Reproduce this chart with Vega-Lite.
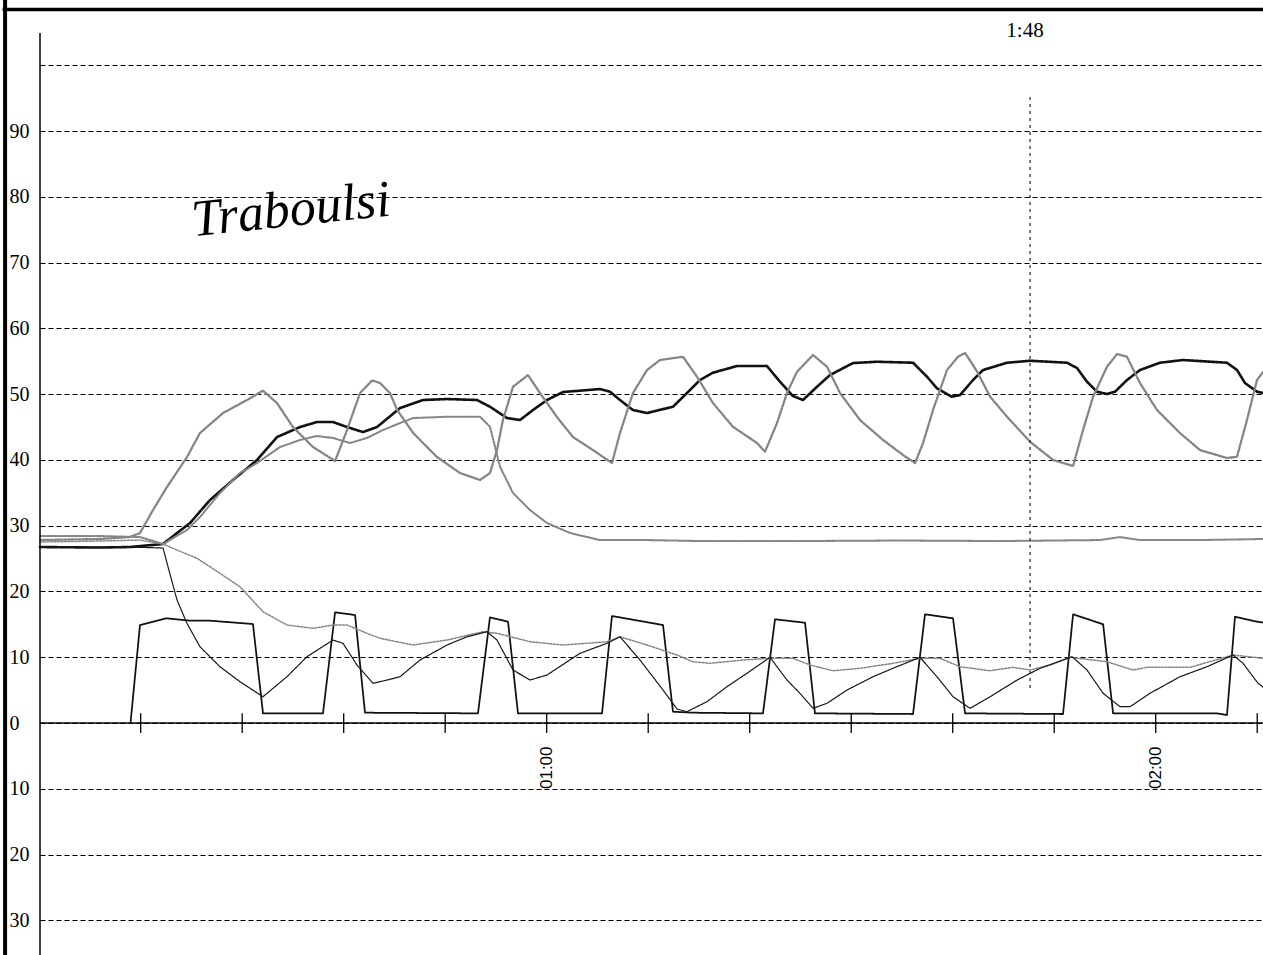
{
  "$schema": "https://vega.github.io/schema/vega-lite/v6.json",
  "width": 1223,
  "height": 955,
  "autosize": {"type": "none"},
  "padding": {"left": 40, "top": 0, "right": 0, "bottom": 0},
  "background": "#ffffff",
  "config": {"view": {"stroke": null}},
  "datasets": {
    "series": [
      {"s":"A","t":10.08,"v":26.76},{"s":"A","t":15.99,"v":26.68},{"s":"A","t":18.95,"v":26.76},{"s":"A","t":22.2,"v":27.22},{"s":"A","t":23.58,"v":28.89},{"s":"A","t":24.86,"v":30.41},{"s":"A","t":26.83,"v":33.9},{"s":"A","t":29.09,"v":36.95},{"s":"A","t":31.46,"v":39.99},{"s":"A","t":33.43,"v":43.48},{"s":"A","t":35.69,"v":45.0},{"s":"A","t":37.37,"v":45.76},{"s":"A","t":38.95,"v":45.76},{"s":"A","t":40.33,"v":45.0},{"s":"A","t":41.9,"v":44.24},{"s":"A","t":43.28,"v":45.0},{"s":"A","t":45.55,"v":47.89},{"s":"A","t":47.81,"v":49.11},{"s":"A","t":50.18,"v":49.26},{"s":"A","t":53.13,"v":49.11},{"s":"A","t":54.41,"v":48.09},{"s":"A","t":56.09,"v":46.37},{"s":"A","t":57.37,"v":46.07},{"s":"A","t":58.65,"v":47.59},{"s":"A","t":60.03,"v":49.11},{"s":"A","t":61.61,"v":50.33},{"s":"A","t":63.28,"v":50.53},{"s":"A","t":65.25,"v":50.78},{"s":"A","t":66.24,"v":50.37},{"s":"A","t":67.22,"v":49.11},{"s":"A","t":68.5,"v":47.59},{"s":"A","t":69.88,"v":47.13},{"s":"A","t":72.44,"v":48.09},{"s":"A","t":73.82,"v":50.17},{"s":"A","t":75.1,"v":52.15},{"s":"A","t":76.38,"v":53.26},{"s":"A","t":78.75,"v":54.28},{"s":"A","t":81.7,"v":54.28},{"s":"A","t":82.98,"v":51.89},{"s":"A","t":84.26,"v":49.72},{"s":"A","t":85.25,"v":49.11},{"s":"A","t":86.63,"v":51.13},{"s":"A","t":87.91,"v":52.91},{"s":"A","t":90.17,"v":54.73},{"s":"A","t":92.54,"v":54.93},{"s":"A","t":96.09,"v":54.78},{"s":"A","t":97.47,"v":52.65},{"s":"A","t":98.45,"v":50.89},{"s":"A","t":99.9,"v":49.61},{"s":"A","t":100.72,"v":49.87},{"s":"A","t":102.0,"v":52.15},{"s":"A","t":102.99,"v":53.67},{"s":"A","t":105.35,"v":54.78},{"s":"A","t":107.62,"v":55.08},{"s":"A","t":111.26,"v":54.78},{"s":"A","t":112.25,"v":53.97},{"s":"A","t":113.23,"v":51.89},{"s":"A","t":114.22,"v":50.37},{"s":"A","t":115.2,"v":50.02},{"s":"A","t":115.99,"v":50.37},{"s":"A","t":117.17,"v":52.15},{"s":"A","t":118.45,"v":53.67},{"s":"A","t":120.42,"v":54.78},{"s":"A","t":122.69,"v":55.19},{"s":"A","t":127.02,"v":54.78},{"s":"A","t":128.01,"v":53.67},{"s":"A","t":128.8,"v":51.69},{"s":"A","t":129.98,"v":50.37},{"s":"A","t":130.57,"v":50.17},

      {"s":"B","t":10.08,"v":27.82},{"s":"B","t":15.99,"v":27.98},{"s":"B","t":18.95,"v":28.28},{"s":"B","t":19.93,"v":28.89},{"s":"B","t":21.21,"v":32.38},{"s":"B","t":22.59,"v":35.88},{"s":"B","t":24.56,"v":40.44},{"s":"B","t":25.84,"v":44.09},{"s":"B","t":28.11,"v":47.13},{"s":"B","t":30.47,"v":49.11},{"s":"B","t":32.05,"v":50.53},{"s":"B","t":33.43,"v":48.65},{"s":"B","t":35.0,"v":45.0},{"s":"B","t":36.98,"v":41.96},{"s":"B","t":39.15,"v":39.83},{"s":"B","t":40.33,"v":44.55},{"s":"B","t":41.61,"v":50.17},{"s":"B","t":42.8,"v":52.1},{"s":"B","t":43.58,"v":51.69},{"s":"B","t":44.56,"v":50.17},{"s":"B","t":45.27,"v":47.59},{"s":"B","t":46.85,"v":44.09},{"s":"B","t":49.19,"v":40.44},{"s":"B","t":51.46,"v":38.01},{"s":"B","t":53.43,"v":36.95},{"s":"B","t":54.41,"v":38.01},{"s":"B","t":55.1,"v":41.5},{"s":"B","t":55.69,"v":46.07},{"s":"B","t":56.68,"v":51.13},{"s":"B","t":58.16,"v":52.91},{"s":"B","t":59.34,"v":50.17},{"s":"B","t":61.01,"v":46.53},{"s":"B","t":62.59,"v":43.48},{"s":"B","t":64.56,"v":41.5},{"s":"B","t":66.43,"v":39.53},{"s":"B","t":67.22,"v":44.09},{"s":"B","t":68.5,"v":50.17},{"s":"B","t":69.88,"v":53.67},{"s":"B","t":71.16,"v":55.19},{"s":"B","t":73.43,"v":55.69},{"s":"B","t":74.81,"v":52.65},{"s":"B","t":76.38,"v":48.65},{"s":"B","t":78.35,"v":45.04},{"s":"B","t":80.72,"v":42.57},{"s":"B","t":81.51,"v":41.26},{"s":"B","t":82.69,"v":45.61},{"s":"B","t":83.67,"v":50.17},{"s":"B","t":84.66,"v":53.41},{"s":"B","t":86.24,"v":55.95},{"s":"B","t":87.62,"v":54.17},{"s":"B","t":88.9,"v":50.17},{"s":"B","t":90.87,"v":46.07},{"s":"B","t":93.14,"v":43.03},{"s":"B","t":95.11,"v":40.75},{"s":"B","t":96.29,"v":39.53},{"s":"B","t":97.08,"v":42.57},{"s":"B","t":98.06,"v":47.59},{"s":"B","t":99.44,"v":53.67},{"s":"B","t":100.52,"v":55.69},{"s":"B","t":101.22,"v":56.28},{"s":"B","t":102.41,"v":53.41},{"s":"B","t":103.69,"v":49.61},{"s":"B","t":105.35,"v":46.57},{"s":"B","t":107.62,"v":42.77},{"s":"B","t":109.89,"v":39.99},{"s":"B","t":111.86,"v":39.08},{"s":"B","t":112.84,"v":44.55},{"s":"B","t":113.83,"v":49.61},{"s":"B","t":115.2,"v":54.17},{"s":"B","t":116.19,"v":56.1},{"s":"B","t":117.17,"v":55.69},{"s":"B","t":118.45,"v":51.69},{"s":"B","t":120.13,"v":47.59},{"s":"B","t":122.39,"v":44.09},{"s":"B","t":124.36,"v":41.5},{"s":"B","t":127.02,"v":40.29},{"s":"B","t":128.01,"v":40.49},{"s":"B","t":128.99,"v":46.07},{"s":"B","t":129.98,"v":52.15},{"s":"B","t":130.57,"v":53.37},

      {"s":"C","t":10.08,"v":28.43},{"s":"C","t":15.99,"v":28.43},{"s":"C","t":19.93,"v":28.28},{"s":"C","t":22.2,"v":27.22},{"s":"C","t":24.56,"v":29.34},{"s":"C","t":25.84,"v":31.32},{"s":"C","t":27.81,"v":34.97},{"s":"C","t":29.78,"v":38.01},{"s":"C","t":31.46,"v":39.53},{"s":"C","t":33.72,"v":41.96},{"s":"C","t":35.69,"v":43.03},{"s":"C","t":37.37,"v":43.64},{"s":"C","t":38.95,"v":43.34},{"s":"C","t":40.62,"v":42.57},{"s":"C","t":42.3,"v":43.34},{"s":"C","t":43.87,"v":44.55},{"s":"C","t":45.55,"v":45.61},{"s":"C","t":46.85,"v":46.37},{"s":"C","t":50.18,"v":46.57},{"s":"C","t":53.43,"v":46.57},{"s":"C","t":54.41,"v":45.04},{"s":"C","t":54.91,"v":42.0},{"s":"C","t":55.4,"v":38.97},{"s":"C","t":56.68,"v":34.97},{"s":"C","t":58.36,"v":32.38},{"s":"C","t":60.03,"v":30.41},{"s":"C","t":62.3,"v":28.89},{"s":"C","t":65.25,"v":27.82},{"s":"C","t":69.88,"v":27.82},{"s":"C","t":75.1,"v":27.67},{"s":"C","t":84.95,"v":27.67},{"s":"C","t":94.8,"v":27.75},{"s":"C","t":104.66,"v":27.67},{"s":"C","t":114.51,"v":27.82},{"s":"C","t":116.48,"v":28.28},{"s":"C","t":118.45,"v":27.82},{"s":"C","t":124.36,"v":27.82},{"s":"C","t":130.57,"v":27.98},

      {"s":"D","t":19.01,"v":0.2},{"s":"D","t":19.93,"v":14.9},{"s":"D","t":22.56,"v":15.92},{"s":"D","t":24.86,"v":15.56},{"s":"D","t":26.83,"v":15.56},{"s":"D","t":31.06,"v":15.05},{"s":"D","t":32.05,"v":1.47},{"s":"D","t":37.96,"v":1.47},{"s":"D","t":39.15,"v":16.83},{"s":"D","t":41.12,"v":16.42},{"s":"D","t":42.1,"v":1.57},{"s":"D","t":53.23,"v":1.47},{"s":"D","t":54.41,"v":16.07},{"s":"D","t":56.19,"v":15.4},{"s":"D","t":57.17,"v":1.47},{"s":"D","t":65.45,"v":1.47},{"s":"D","t":66.43,"v":16.27},{"s":"D","t":71.46,"v":14.9},{"s":"D","t":72.44,"v":1.72},{"s":"D","t":74.41,"v":1.57},{"s":"D","t":81.31,"v":1.47},{"s":"D","t":82.49,"v":15.77},{"s":"D","t":85.45,"v":15.25},{"s":"D","t":86.43,"v":1.47},{"s":"D","t":96.09,"v":1.37},{"s":"D","t":97.27,"v":16.53},{"s":"D","t":100.03,"v":15.92},{"s":"D","t":101.22,"v":1.47},{"s":"D","t":110.87,"v":1.37},{"s":"D","t":111.86,"v":16.53},{"s":"D","t":114.82,"v":15.01},{"s":"D","t":115.8,"v":1.47},{"s":"D","t":126.05,"v":1.47},{"s":"D","t":127.02,"v":1.22},{"s":"D","t":127.81,"v":16.16},{"s":"D","t":129.98,"v":15.4},{"s":"D","t":130.57,"v":15.28},

      {"s":"F","t":10.08,"v":27.52},{"s":"F","t":15.99,"v":27.67},{"s":"F","t":19.93,"v":27.82},{"s":"F","t":22.2,"v":27.22},{"s":"F","t":23.58,"v":26.3},{"s":"F","t":25.55,"v":25.04},{"s":"F","t":27.81,"v":22.76},{"s":"F","t":29.78,"v":20.72},{"s":"F","t":32.05,"v":16.92},{"s":"F","t":34.41,"v":14.9},{"s":"F","t":36.98,"v":14.4},{"s":"F","t":38.95,"v":14.9},{"s":"F","t":40.33,"v":14.9},{"s":"F","t":42.3,"v":13.64},{"s":"F","t":43.58,"v":12.88},{"s":"F","t":46.85,"v":11.86},{"s":"F","t":50.18,"v":12.62},{"s":"F","t":53.73,"v":13.89},{"s":"F","t":55.1,"v":13.64},{"s":"F","t":58.36,"v":12.36},{"s":"F","t":61.61,"v":11.86},{"s":"F","t":65.94,"v":12.36},{"s":"F","t":67.22,"v":13.12},{"s":"F","t":69.88,"v":11.86},{"s":"F","t":72.84,"v":10.34},{"s":"F","t":74.41,"v":9.32},{"s":"F","t":76.09,"v":9.08},{"s":"F","t":79.34,"v":9.58},{"s":"F","t":82.0,"v":9.84},{"s":"F","t":84.26,"v":9.84},{"s":"F","t":85.94,"v":8.82},{"s":"F","t":88.21,"v":7.95},{"s":"F","t":90.87,"v":8.32},{"s":"F","t":94.12,"v":9.08},{"s":"F","t":96.78,"v":9.84},{"s":"F","t":98.75,"v":9.84},{"s":"F","t":100.72,"v":8.56},{"s":"F","t":103.69,"v":7.95},{"s":"F","t":105.94,"v":8.47},{"s":"F","t":107.62,"v":8.06},{"s":"F","t":109.59,"v":8.82},{"s":"F","t":111.56,"v":9.99},{"s":"F","t":115.2,"v":9.32},{"s":"F","t":117.77,"v":8.06},{"s":"F","t":119.15,"v":8.47},{"s":"F","t":123.38,"v":8.47},{"s":"F","t":127.62,"v":10.34},{"s":"F","t":130.57,"v":9.84},

      {"s":"G","t":10.08,"v":26.76},{"s":"G","t":18.95,"v":26.76},{"s":"G","t":22.2,"v":26.61},{"s":"G","t":22.69,"v":23.77},{"s":"G","t":23.58,"v":18.7},{"s":"G","t":24.56,"v":15.16},{"s":"G","t":25.84,"v":11.6},{"s":"G","t":27.81,"v":8.56},{"s":"G","t":29.78,"v":6.28},{"s":"G","t":32.05,"v":4.0},{"s":"G","t":34.41,"v":7.04},{"s":"G","t":36.38,"v":10.08},{"s":"G","t":38.95,"v":12.62},{"s":"G","t":39.93,"v":12.12},{"s":"G","t":41.31,"v":8.82},{"s":"G","t":42.89,"v":6.04},{"s":"G","t":44.27,"v":6.54},{"s":"G","t":45.55,"v":7.04},{"s":"G","t":47.52,"v":9.58},{"s":"G","t":50.18,"v":11.86},{"s":"G","t":52.15,"v":13.12},{"s":"G","t":54.12,"v":13.89},{"s":"G","t":55.1,"v":12.62},{"s":"G","t":56.68,"v":8.06},{"s":"G","t":58.36,"v":6.54},{"s":"G","t":60.03,"v":7.3},{"s":"G","t":63.28,"v":10.6},{"s":"G","t":65.94,"v":12.12},{"s":"G","t":67.22,"v":13.12},{"s":"G","t":69.19,"v":9.58},{"s":"G","t":71.46,"v":5.02},{"s":"G","t":72.84,"v":2.13},{"s":"G","t":73.82,"v":1.72},{"s":"G","t":75.79,"v":3.24},{"s":"G","t":77.76,"v":5.52},{"s":"G","t":79.73,"v":7.56},{"s":"G","t":82.0,"v":9.99},{"s":"G","t":83.67,"v":6.54},{"s":"G","t":84.95,"v":4.52},{"s":"G","t":86.24,"v":2.24},{"s":"G","t":87.62,"v":3.0},{"s":"G","t":89.59,"v":5.02},{"s":"G","t":92.15,"v":7.04},{"s":"G","t":94.12,"v":8.32},{"s":"G","t":96.78,"v":9.99},{"s":"G","t":98.45,"v":7.04},{"s":"G","t":100.03,"v":4.0},{"s":"G","t":101.71,"v":2.24},{"s":"G","t":103.69,"v":4.0},{"s":"G","t":106.35,"v":6.54},{"s":"G","t":108.61,"v":8.32},{"s":"G","t":111.76,"v":10.08},{"s":"G","t":113.23,"v":8.06},{"s":"G","t":114.82,"v":4.52},{"s":"G","t":116.48,"v":2.48},{"s":"G","t":117.47,"v":2.48},{"s":"G","t":119.44,"v":4.52},{"s":"G","t":122.39,"v":7.04},{"s":"G","t":125.05,"v":8.56},{"s":"G","t":127.62,"v":10.34},{"s":"G","t":128.6,"v":9.08},{"s":"G","t":130.08,"v":6.04},{"s":"G","t":130.57,"v":5.47}
    ],
    "ticks": [{"t":20},{"t":30},{"t":40},{"t":50},{"t":60},{"t":70},{"t":80},{"t":90},{"t":100},{"t":110},{"t":120},{"t":130}],
    "xlabels": [{"t":60,"label":"01:00"},{"t":120,"label":"02:00"}]
  },
  "layer": [
    {
      "data": {"name": "series"},
      "mark": {"type": "line", "interpolate": "linear", "strokeJoin": "round", "strokeCap": "round"},
      "encoding": {
        "x": {"field": "t", "type": "quantitative", "scale": {"domain": [10.08, 130.57], "nice": false, "zero": false}, "axis": null},
        "y": {"field": "v", "type": "quantitative", "scale": {"domain": [-35.27, 109.93], "nice": false, "zero": false},
          "axis": {"values": [-30,-20,-10,0,10,20,30,40,50,60,70,80,90,100], "labelExpr": "datum.value >= 100 ? '' : '' + abs(datum.value)", "grid": true, "gridDash": [5,3], "gridColor": "#000000", "gridWidth": 1, "gridOpacity": 1, "domain": false, "ticks": false, "labelAlign": "left", "labelBaseline": "middle", "labelPadding": 31, "labelFont": "Liberation Serif", "labelFontSize": 20, "labelColor": "#000000", "labelOverlap": false, "labelBound": false, "labelFlush": false, "title": null}},
        "detail": {"field": "s"},
        "color": {"field": "s", "type": "nominal", "scale": {"domain": ["A","B","C","D","F","G"], "range": ["#111111","#858585","#858585","#111111","#858585","#1a1a1a"]}, "legend": null},
        "strokeWidth": {"field": "s", "type": "nominal", "scale": {"domain": ["A","B","C","D","F","G"], "range": [2.6,1.2,1.2,2.0,1.2,1.5]}, "legend": null},
        "strokeDash": {"field": "s", "type": "nominal", "scale": {"domain": ["A","B","C","D","F","G"], "range": [[1,0],[2,1.5],[2,1.5],[1,0],[2,1.5],[1,0]]}, "legend": null}
      }
    },
    {
      "data": {"values": [{}]},
      "mark": {"type": "rule", "color": "#000000", "strokeWidth": 1.5},
      "encoding": {"y": {"datum": 0}}
    },
    {
      "data": {"name": "ticks"},
      "mark": {"type": "rule", "color": "#000000", "strokeWidth": 1.3},
      "encoding": {"x": {"field": "t", "type": "quantitative", "axis": null}, "y": {"datum": -1.5}, "y2": {"datum": 1.5}}
    },
    {
      "data": {"name": "xlabels"},
      "mark": {"type": "text", "angle": 270, "align": "center", "baseline": "middle", "font": "Liberation Sans", "fontSize": 17, "color": "#000000"},
      "encoding": {"x": {"field": "t", "type": "quantitative", "axis": null}, "y": {"datum": -6.8}, "text": {"field": "label"}}
    },
    {
      "data": {"values": [{}]},
      "mark": {"type": "rule", "color": "#000000", "strokeWidth": 1.5},
      "encoding": {"x": {"datum": 10.08, "axis": null}, "y": {"datum": 104.9}, "y2": {"datum": -35.27}}
    },
    {
      "data": {"values": [{}]},
      "mark": {"type": "rule", "color": "#000000", "strokeWidth": 4},
      "encoding": {"x": {"datum": 6.64, "axis": null}, "y": {"datum": 109.93}, "y2": {"datum": -35.27}}
    },
    {
      "data": {"values": [{}]},
      "mark": {"type": "rule", "color": "#000000", "strokeWidth": 3.5},
      "encoding": {"x": {"datum": 6.4, "axis": null}, "x2": {"datum": 130.57}, "y": {"datum": 108.5}}
    },
    {
      "data": {"values": [{"t": 107.62, "top": 95.18, "bottom": 5.02}]},
      "mark": {"type": "rule", "color": "#222222", "strokeWidth": 1.2, "strokeDash": [3,4]},
      "encoding": {"x": {"field": "t", "type": "quantitative", "axis": null}, "y": {"field": "top", "type": "quantitative"}, "y2": {"field": "bottom"}}
    },
    {
      "data": {"values": [{"t": 107.12, "v": 105.2, "label": "1:48"}]},
      "mark": {"type": "text", "align": "center", "baseline": "middle", "font": "Liberation Serif", "fontSize": 21, "color": "#000000"},
      "encoding": {"x": {"field": "t", "type": "quantitative", "axis": null}, "y": {"field": "v", "type": "quantitative"}, "text": {"field": "label"}}
    },
    {
      "data": {"values": [{"t": 25.2, "v": 74.0, "label": "Traboulsi"}]},
      "mark": {"type": "text", "align": "left", "baseline": "alphabetic", "font": "Liberation Serif", "fontStyle": "italic", "fontSize": 52, "angle": 354, "color": "#000000"},
      "encoding": {"x": {"field": "t", "type": "quantitative", "axis": null}, "y": {"field": "v", "type": "quantitative"}, "text": {"field": "label"}}
    }
  ]
}
